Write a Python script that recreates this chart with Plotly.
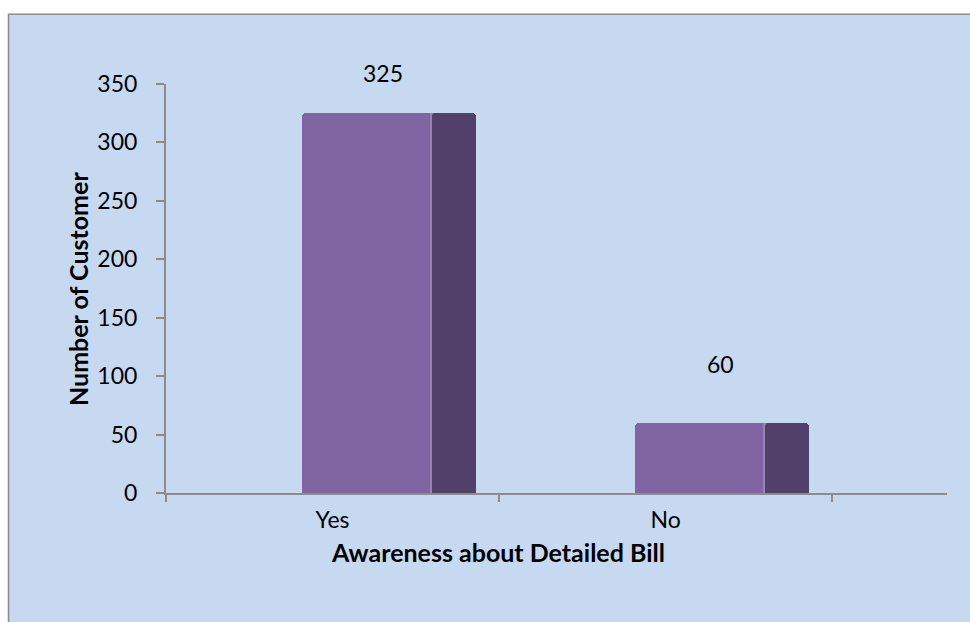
import plotly.graph_objects as go

categories = ["Yes", "No"]
values = [325, 60]
y_ticks = [0, 50, 100, 150, 200, 250, 300, 350]
x_title = "Awareness about Detailed Bill"
y_title = "Number of Customer"

FONT = "Lato"
FRONT = "#8165A3"
SIDE = "#523F6A"
EDGE = "#9882B8"
BG = "#C6D9F1"
AXIS = "#8C8C8C"

W, H = 970, 622
L, R, T, B = 166, 23, 83.5, 128.5
pw = W - L - R
ph = H - T - B

fig = go.Figure()
# full bar body (front face colour)
fig.add_trace(go.Bar(
    x=categories, y=values, offset=-0.093, width=0.525,
    marker=dict(color=FRONT, line=dict(width=0), cornerradius=4),
    hoverinfo="skip", showlegend=False))
# side face (depth)
fig.add_trace(go.Bar(
    x=categories, y=values, offset=0.300, width=0.132,
    marker=dict(color=SIDE, line=dict(width=0), cornerradius=4),
    hoverinfo="skip", showlegend=False))
# light edge between front and side
fig.add_trace(go.Bar(
    x=categories, y=values, offset=0.294, width=0.006,
    marker=dict(color=EDGE, line=dict(width=0)),
    hoverinfo="skip", showlegend=False))

# data labels
label_shift = {"Yes": (50, 40), "No": (55, 59)}
for c, v in zip(categories, values):
    dx, dy = label_shift[c]
    fig.add_annotation(x=c, y=v, text=str(v), showarrow=False,
                       xshift=dx, yshift=dy, yanchor="middle",
                       font=dict(family=FONT, size=23, color="#000000"))

def px_to_paper_x(px):
    return (px - L) / pw

def px_to_paper_y(py):
    return (H - B - py) / ph

# chart area background with border
fig.add_shape(type="rect", xref="paper", yref="paper", layer="below",
              x0=px_to_paper_x(8.5), x1=px_to_paper_x(W + 10),
              y0=px_to_paper_y(H + 10), y1=px_to_paper_y(13.5),
              fillcolor=BG, line=dict(color=AXIS, width=1.5))

# axis titles
fig.add_annotation(xref="paper", yref="paper", x=px_to_paper_x(498), y=px_to_paper_y(553),
                   text="<b>" + x_title + "</b>", showarrow=False, xanchor="center", yanchor="middle",
                   font=dict(family=FONT, size=25, color="#000000"))
fig.add_annotation(xref="paper", yref="paper", x=px_to_paper_x(78), y=px_to_paper_y(289),
                   text="<b>" + y_title + "</b>", showarrow=False, textangle=-90,
                   xanchor="center", yanchor="middle",
                   font=dict(family=FONT, size=25, color="#000000"))

fig.update_layout(
    width=W, height=H,
    margin=dict(l=L, r=R, t=T, b=B, pad=0),
    paper_bgcolor="white", plot_bgcolor="rgba(0,0,0,0)",
    barmode="overlay", bargap=0,
    showlegend=False,
    xaxis=dict(type="category", range=[-0.5, 1.845], showgrid=False, zeroline=False,
               showline=True, linecolor=AXIS, linewidth=2,
               ticks="outside", tickson="boundaries", ticklen=7, tickwidth=2, tickcolor=AXIS,
               tickfont=dict(family=FONT, size=23, color="#000000"), ticklabelstandoff=5),
    yaxis=dict(range=[0, 350], tickvals=y_ticks, showgrid=False, zeroline=False,
               showline=True, linecolor=AXIS, linewidth=2,
               ticks="outside", ticklen=8, tickwidth=2, tickcolor=AXIS,
               tickfont=dict(family=FONT, size=23, color="#000000"), ticklabelstandoff=14),
)

fig.write_html("out.html")
